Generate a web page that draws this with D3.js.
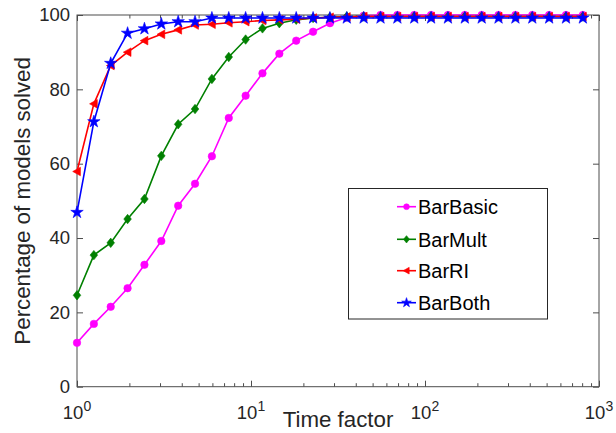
<!DOCTYPE html>
<html>
<head>
<meta charset="utf-8">
<script src="https://cdn.jsdelivr.net/npm/d3@7"></script>
<style>
  html, body { margin: 0; padding: 0; background: #fff; }
  svg { display: block; }
  text { font-family: "Liberation Sans", Arial, Helvetica, sans-serif; fill: #262626; }
</style>
</head>
<body>
<svg id="chart" width="616" height="433"></svg>
<script>
// Time factors (performance-profile abscissa, log scale)
const timeFactors = [1, 1.25, 1.5625, 1.953, 2.441, 3.052, 3.815, 4.768, 5.96, 7.451,
  9.313, 11.64, 14.55, 18.19, 22.74, 28.42, 35.53, 44.41, 55.51, 69.39,
  86.74, 108.4, 135.5, 169.4, 211.8, 264.7, 330.9, 413.6, 517.0, 646.2, 807.8];

// Percentage of models solved for each method
const barBasic = [11.8, 16.9, 21.5, 26.5, 32.8, 39.2, 48.7, 54.6, 62.0, 72.3,
  78.3, 84.3, 89.6, 93.1, 95.5, 97.8, 99.3, 99.8, 100, 100,
  100, 100, 100, 100, 100, 100, 100, 100, 100, 100, 100];
const barMult = [24.6, 35.4, 38.7, 45.1, 50.5, 62.1, 70.6, 74.7, 82.8, 88.7,
  93.4, 96.4, 97.8, 98.7, 99.2, 99.4, 99.6, 99.6, 99.6, 99.6,
  99.6, 99.6, 99.6, 99.6, 99.6, 99.6, 99.6, 99.6, 99.6, 99.6, 99.6];
const barRI = [57.9, 76.1, 86.4, 90.0, 93.1, 94.8, 96.0, 97.3, 97.5, 97.9,
  98.2, 98.5, 98.7, 98.9, 99.2, 99.4, 99.5, 99.6, 99.6, 99.6,
  99.6, 99.6, 99.6, 99.6, 99.6, 99.6, 99.6, 99.6, 99.6, 99.6, 99.6];
const barBoth = [46.9, 71.3, 87.0, 95.1, 96.3, 97.6, 98.2, 98.2, 99.2, 99.2,
  99.2, 99.2, 99.2, 99.2, 99.2, 99.2, 99.2, 99.2, 99.2, 99.2,
  99.2, 99.2, 99.2, 99.2, 99.2, 99.2, 99.2, 99.2, 99.2, 99.2, 99.2];

const seriesNames = ["BarBasic", "BarMult", "BarRI", "BarBoth"];
const seriesColors = ["#ff00ff", "#008000", "#ff0000", "#0000ff"];
const seriesMarkers = ["circle", "diamond", "triangleLeft", "star"];

const xTickValues = [1, 10, 100, 1000];
const xTickExponents = ["0", "1", "2", "3"];
const yTickValues = [0, 20, 40, 60, 80, 100];

const xLabel = "Time factor";
const yLabel = "Percentage of models solved";

// Layout
const plotLeft = 77, plotRight = 599, plotTop = 15, plotBottom = 386.7;
const svg = d3.select("#chart");

const x = d3.scaleLog().domain([1, 1000]).range([plotLeft, plotRight]);
const y = d3.scaleLinear().domain([0, 100]).range([plotBottom, plotTop]);

// Custom MATLAB-like marker shapes for d3.symbol
const markerTypes = {
  circle: d3.symbolCircle,
  star: d3.symbolStar,
  diamond: {
    draw(ctx, size) {
      const h = Math.sqrt(size) * 0.75, w = h * 0.8;
      ctx.moveTo(0, -h); ctx.lineTo(w, 0); ctx.lineTo(0, h); ctx.lineTo(-w, 0); ctx.closePath();
    }
  },
  triangleLeft: {
    draw(ctx, size) {
      const r = Math.sqrt(size) * 0.62;
      ctx.moveTo(-r, 0); ctx.lineTo(r * 0.8, -r); ctx.lineTo(r * 0.8, r); ctx.closePath();
    }
  }
};
const markerSizes = { circle: 44, star: 48, diamond: 40, triangleLeft: 48 };
function markerPath(kind, scale = 1) {
  return d3.symbol().type(markerTypes[kind]).size(markerSizes[kind] * scale)();
}

const allSeries = [barBasic, barMult, barRI, barBoth].map((vals, i) => ({
  name: seriesNames[i], color: seriesColors[i], marker: seriesMarkers[i],
  points: vals.map((v, j) => ({ t: timeFactors[j], v }))
}));

// Axes: ticks drawn inward, box on all four sides
const axisColor = "#4d4d4d";
const xMinor = [];
for (let d = 1; d < 1000; d *= 10) for (let m = 2; m <= 9; m++) xMinor.push(d * m);

const gAxes = svg.append("g");

const xAxisBottom = d3.axisBottom(x).tickValues(xTickValues).tickSizeInner(-6).tickSizeOuter(0).tickFormat("");
const xAxisTop = d3.axisTop(x).tickValues(xTickValues).tickSizeInner(-6).tickSizeOuter(0).tickFormat("");
const xMinorBottom = d3.axisBottom(x).tickValues(xMinor).tickSizeInner(-3.5).tickSizeOuter(0).tickFormat("");
const xMinorTop = d3.axisTop(x).tickValues(xMinor).tickSizeInner(-3.5).tickSizeOuter(0).tickFormat("");
const yAxisLeft = d3.axisLeft(y).tickValues(yTickValues).tickSizeInner(-6).tickSizeOuter(0).tickFormat("");
const yAxisRight = d3.axisRight(y).tickValues(yTickValues).tickSizeInner(-6).tickSizeOuter(0).tickFormat("");

gAxes.append("g").attr("transform", `translate(0,${plotBottom})`).call(xAxisBottom);
gAxes.append("g").attr("transform", `translate(0,${plotBottom})`).call(xMinorBottom);
gAxes.append("g").attr("transform", `translate(0,${plotTop})`).call(xAxisTop);
gAxes.append("g").attr("transform", `translate(0,${plotTop})`).call(xMinorTop);
gAxes.append("g").attr("transform", `translate(${plotLeft},0)`).call(yAxisLeft);
gAxes.append("g").attr("transform", `translate(${plotRight},0)`).call(yAxisRight);
gAxes.selectAll("path.domain").remove();
gAxes.selectAll("line").attr("stroke", axisColor).attr("stroke-width", 1);

// Plot box
svg.append("rect")
  .attr("x", plotLeft).attr("y", plotTop)
  .attr("width", plotRight - plotLeft).attr("height", plotBottom - plotTop)
  .attr("fill", "none").attr("stroke", axisColor).attr("stroke-width", 1);

// Y tick labels
svg.append("g").selectAll("text").data(yTickValues).join("text")
  .attr("x", plotLeft - 7).attr("y", d => y(d)).attr("dy", "0.35em")
  .attr("text-anchor", "end").attr("font-size", 18.5)
  .text(d => d);

// X tick labels as 10 with superscript exponent
const xl = svg.append("g").selectAll("text").data(xTickValues).join("text")
  .attr("x", d => x(d)).attr("y", 419).attr("text-anchor", "middle").attr("font-size", 18.5);
xl.append("tspan").text("10");
xl.append("tspan").attr("font-size", 14).attr("dy", -8).text((d, i) => xTickExponents[i]);

// Axis titles
svg.append("text")
  .attr("x", (plotLeft + plotRight) / 2).attr("y", 426.5)
  .attr("text-anchor", "middle").attr("font-size", 22.3)
  .text(xLabel);
svg.append("text")
  .attr("transform", `translate(29.5,${(plotTop + plotBottom) / 2}) rotate(-90)`)
  .attr("text-anchor", "middle").attr("font-size", 22.3)
  .text(yLabel);

// Series lines and markers
const line = d3.line().x(d => x(d.t)).y(d => y(d.v));
const gSeries = svg.append("g");
allSeries.forEach(s => {
  const g = gSeries.append("g");
  g.append("path").datum(s.points)
    .attr("d", line).attr("fill", "none")
    .attr("stroke", s.color).attr("stroke-width", 1.6);
  g.selectAll("path.m").data(s.points).join("path").attr("class", "m")
    .attr("transform", d => `translate(${x(d.t)},${y(d.v)})`)
    .attr("d", markerPath(s.marker))
    .attr("fill", s.color).attr("stroke", s.color).attr("stroke-width", 0.6);
});

// Legend
const legendX = 348.5, legendY = 188.5, legendW = 199, legendH = 130.5;
const gLeg = svg.append("g");
gLeg.append("rect")
  .attr("x", legendX).attr("y", legendY).attr("width", legendW).attr("height", legendH)
  .attr("fill", "#fff").attr("stroke", "#262626").attr("stroke-width", 1);
const rowY = [206.7, 239.3, 270.7, 302.7];
allSeries.forEach((s, i) => {
  const gy = rowY[i];
  gLeg.append("line")
    .attr("x1", 397).attr("x2", 416).attr("y1", gy).attr("y2", gy)
    .attr("stroke", s.color).attr("stroke-width", 1.6);
  gLeg.append("path")
    .attr("transform", `translate(406.5,${gy})`)
    .attr("d", markerPath(s.marker, 0.6))
    .attr("fill", s.color).attr("stroke", s.color).attr("stroke-width", 0.6);
  gLeg.append("text")
    .attr("x", 418).attr("y", gy).attr("dy", "0.36em")
    .attr("font-size", 20).style("fill", "#000")
    .text(s.name);
});
</script>
</body>
</html>
